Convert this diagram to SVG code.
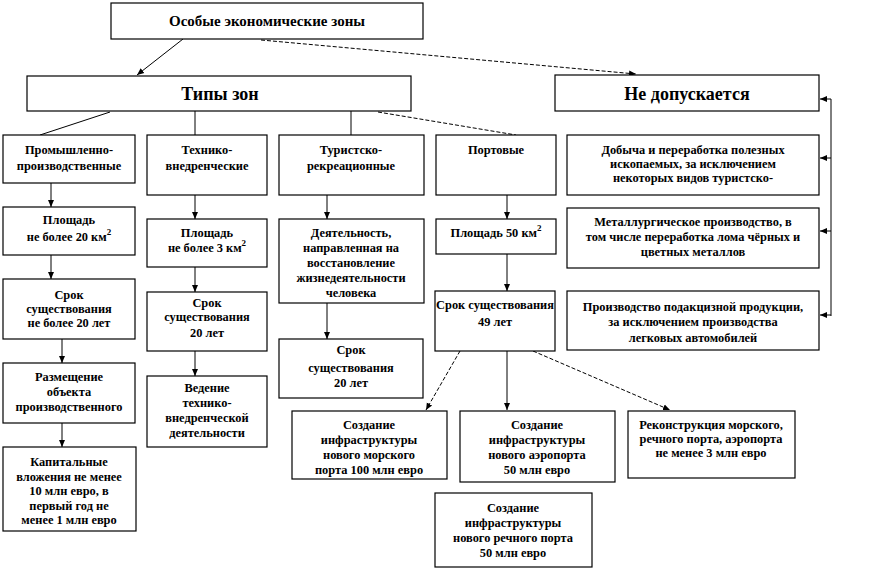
<svg xmlns="http://www.w3.org/2000/svg" width="879" height="570" viewBox="0 0 879 570">
<style>
.b{fill:#fff;stroke:#000;stroke-width:1.2}
text{font-family:'Liberation Serif','Times New Roman','DejaVu Serif',serif;font-weight:bold;font-size:12.4px;fill:#000;text-anchor:middle}
.big{font-size:18px}
.mid{font-size:15px}
.c{stroke:#000;stroke-width:1;fill:none}
.d{stroke-dasharray:4 2}
</style>
<defs>
<marker id="a" markerWidth="8" markerHeight="8" refX="7" refY="4" orient="auto" markerUnits="userSpaceOnUse">
<path d="M0,1 L7,4 L0,7 Z" fill="#000"/>
</marker>
</defs>
<rect width="879" height="570" fill="#fff"/>
<g id="connectors">
<line class="c" x1="183" y1="39" x2="137" y2="75" marker-end="url(#a)"/>
<line class="c d" x1="261" y1="40" x2="636" y2="74" marker-end="url(#a)"/>
<line class="c" x1="110" y1="112" x2="40" y2="135"/>
<line class="c" x1="195" y1="111" x2="195" y2="135"/>
<line class="c" x1="351" y1="111" x2="351" y2="135"/>
<line class="c d" x1="378" y1="112" x2="516" y2="135"/>
<polyline class="c" points="831,99 831,316"/>
<line class="c" x1="831" y1="99" x2="820" y2="99" marker-end="url(#a)"/>
<line class="c" x1="831" y1="158" x2="820" y2="158" marker-end="url(#a)"/>
<line class="c" x1="831" y1="231" x2="820" y2="231" marker-end="url(#a)"/>
<line class="c" x1="831" y1="315" x2="820" y2="315" marker-end="url(#a)"/>
<line class="c" x1="51" y1="183" x2="51" y2="207" marker-end="url(#a)"/>
<line class="c" x1="51" y1="255" x2="51" y2="279" marker-end="url(#a)"/>
<line class="c" x1="62" y1="339" x2="62" y2="363" marker-end="url(#a)"/>
<line class="c" x1="62" y1="423" x2="62" y2="447" marker-end="url(#a)"/>
<line class="c" x1="195" y1="195" x2="195" y2="219" marker-end="url(#a)"/>
<line class="c" x1="195" y1="267" x2="195" y2="292" marker-end="url(#a)"/>
<line class="c" x1="195" y1="351" x2="195" y2="376" marker-end="url(#a)"/>
<line class="c" x1="327" y1="195" x2="327" y2="219" marker-end="url(#a)"/>
<line class="c" x1="327" y1="303" x2="327" y2="339" marker-end="url(#a)"/>
<line class="c" x1="507" y1="195" x2="507" y2="219" marker-end="url(#a)"/>
<line class="c" x1="507" y1="254" x2="507" y2="291" marker-end="url(#a)"/>
<line class="c d" x1="460" y1="351" x2="426" y2="410" marker-end="url(#a)"/>
<line class="c" x1="507" y1="351" x2="507" y2="410" marker-end="url(#a)"/>
<line class="c d" x1="533" y1="351" x2="670" y2="410" marker-end="url(#a)"/>
</g>
<g id="n-oez"><rect class="b" x="111" y="3" width="312" height="36"/><text class="mid" x="267" y="26">Особые экономические зоны</text></g>
<g id="n-tipy"><rect class="b" x="27" y="76" width="384" height="35"/><text class="big" x="220" y="100">Типы зон</text></g>
<g id="n-ne"><rect class="b" x="555" y="75" width="264" height="36"/><text class="big" x="687" y="100">Не допускается</text></g>
<g id="n-prom"><rect class="b" x="3" y="135" width="132" height="48"/><text x="69" y="154">Промышленно-</text><text x="69" y="170">производственные</text></g>
<g id="n-tech"><rect class="b" x="147" y="135" width="120" height="60"/><text x="207" y="154">Технико-</text><text x="207" y="170">внедренческие</text></g>
<g id="n-tur"><rect class="b" x="279" y="135" width="145" height="60"/><text x="351" y="154">Туристско-</text><text x="351" y="170">рекреационные</text></g>
<g id="n-port"><rect class="b" x="436" y="135" width="120" height="60"/><text x="496" y="154">Портовые</text></g>
<g id="n-dob"><rect class="b" x="567" y="135" width="252" height="60"/><text x="693" y="154">Добыча и переработка полезных</text><text x="693" y="168">ископаемых, за исключением</text><text x="693" y="182">некоторых видов туристско-</text></g>
<g id="n-met"><rect class="b" x="567" y="208" width="252" height="60"/><text x="693" y="226">Металлургическое производство, в</text><text x="693" y="241">том числе переработка лома чёрных и</text><text x="693" y="256">цветных металлов</text></g>
<g id="n-proizv"><rect class="b" x="567" y="291" width="252" height="59"/><text x="693" y="311">Производство подакцизной продукции,</text><text x="693" y="326">за исключением производства</text><text x="693" y="342">легковых автомобилей</text></g>
<g id="n-pl20"><rect class="b" x="3" y="207" width="132" height="48"/><text x="69" y="224">Площадь</text><text x="69" y="241">не более 20 км<tspan dy="-6" font-size="9">2</tspan></text></g>
<g id="n-pl3"><rect class="b" x="147" y="219" width="120" height="48"/><text x="207" y="237">Площадь</text><text x="207" y="252">не более 3 км<tspan dy="-6" font-size="9">2</tspan></text></g>
<g id="n-deyat"><rect class="b" x="279" y="219" width="145" height="84"/><text x="351" y="237">Деятельность,</text><text x="351" y="252">направленная на</text><text x="351" y="267">восстановление</text><text x="351" y="282">жизнедеятельности</text><text x="351" y="297">человека</text></g>
<g id="n-pl50"><rect class="b" x="436" y="219" width="120" height="35"/><text x="496" y="237">Площадь 50 км<tspan dy="-6" font-size="9">2</tspan></text></g>
<g id="n-srok1"><rect class="b" x="3" y="279" width="132" height="60"/><text x="69" y="299">Срок</text><text x="69" y="313">существования</text><text x="69" y="327">не более 20 лет</text></g>
<g id="n-razm"><rect class="b" x="3" y="363" width="132" height="60"/><text x="69" y="381">Размещение</text><text x="69" y="396">объекта</text><text x="69" y="411">производственного</text></g>
<g id="n-kap"><rect class="b" x="3" y="447" width="133" height="84"/><text x="69" y="466">Капитальные</text><text x="69" y="481">вложения не менее</text><text x="69" y="495">10 млн евро, в</text><text x="69" y="510">первый год не</text><text x="69" y="524">менее 1 млн евро</text></g>
<g id="n-srok2"><rect class="b" x="147" y="292" width="120" height="59"/><text x="207" y="307">Срок</text><text x="207" y="321">существования</text><text x="207" y="337">20 лет</text></g>
<g id="n-ved"><rect class="b" x="147" y="376" width="120" height="71"/><text x="207" y="392">Ведение</text><text x="207" y="407">технико-</text><text x="207" y="422">внедренческой</text><text x="207" y="437">деятельности</text></g>
<g id="n-srok3"><rect class="b" x="279" y="339" width="144" height="59"/><text x="351" y="354">Срок</text><text x="351" y="372">существования</text><text x="351" y="387">20 лет</text></g>
<g id="n-srok4"><rect class="b" x="435" y="291" width="120" height="60"/><text x="495" y="309">Срок существования</text><text x="495" y="326">49 лет</text></g>
<g id="n-mor"><rect class="b" x="292" y="411" width="155" height="68"/><text x="369" y="429">Создание</text><text x="369" y="444">инфраструктуры</text><text x="369" y="459">нового морского</text><text x="369" y="474">порта 100 млн евро</text></g>
<g id="n-aero"><rect class="b" x="460" y="411" width="155" height="71"/><text x="537" y="429">Создание</text><text x="537" y="444">инфраструктуры</text><text x="537" y="459">нового аэропорта</text><text x="537" y="474">50 млн евро</text></g>
<g id="n-rek"><rect class="b" x="628" y="411" width="167" height="67"/><text x="711" y="429">Реконструкция морского,</text><text x="711" y="443">речного порта, аэропорта</text><text x="711" y="457">не менее 3 млн евро</text></g>
<g id="n-rech"><rect class="b" x="435" y="493" width="157" height="74"/><text x="513" y="512">Создание</text><text x="513" y="527">инфраструктуры</text><text x="513" y="542">нового речного порта</text><text x="513" y="557">50 млн евро</text></g>
</svg>
